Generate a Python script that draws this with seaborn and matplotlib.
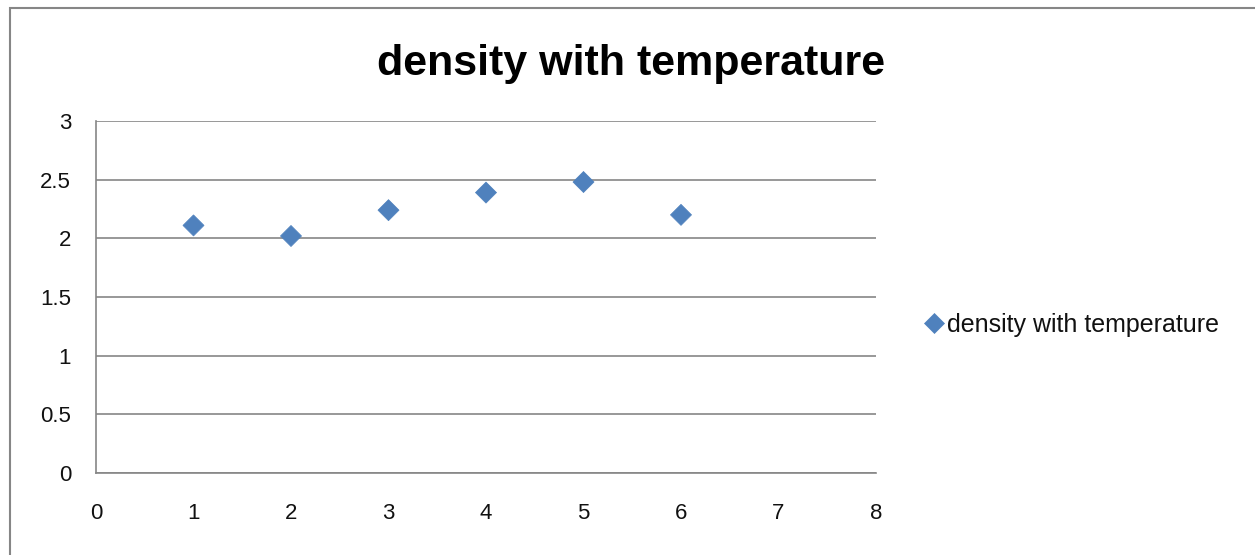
import numpy as np
import pandas as pd
import seaborn as sns
import matplotlib.pyplot as plt
from matplotlib.patches import Rectangle

# values
x_vals = [1, 2, 3, 4, 5, 6]
density = [2.11, 2.02, 2.24, 2.39, 2.48, 2.20]
series_name = "density with temperature"
x_ticks = [0, 1, 2, 3, 4, 5, 6, 7, 8]
y_ticks = [0, 0.5, 1, 1.5, 2, 2.5, 3]
y_tick_labels = ["0", "0.5", "1", "1.5", "2", "2.5", "3"]

df = pd.DataFrame({"x": x_vals, "y": density, "series": series_name})

sns.set_style("white")
plt.rcParams["font.family"] = ["Liberation Sans", "DejaVu Sans"]

fig = plt.figure(figsize=(12.55, 5.55), dpi=100)
ax = fig.add_axes([96 / 1255, 1 - 473 / 555, (876 - 96) / 1255, (473 - 121) / 555])

# chart frame
fig.patches.append(Rectangle((10 / 1255, -0.1), 1.2, 1.1 - 8 / 555,
                             transform=fig.transFigure, fill=False,
                             edgecolor="#868686", linewidth=1.5))

sns.scatterplot(data=df, x="x", y="y", hue="series", palette=["#4F81BD"],
                marker="D", s=115, edgecolor="#4F81BD", linewidth=0.5, ax=ax,
                zorder=3)

ax.set_xlim(0, 8)
ax.set_ylim(0, 3)
ax.set_xticks(x_ticks)
ax.set_yticks(y_ticks)
ax.set_yticklabels(y_tick_labels)
ax.set_xlabel("")
ax.set_ylabel("")
ax.yaxis.grid(True, color="#868686", linewidth=1.2)
ax.set_axisbelow(True)
for side in ["top", "right"]:
    ax.spines[side].set_visible(False)
for side in ["left", "bottom"]:
    ax.spines[side].set_color("#868686")
    ax.spines[side].set_linewidth(1.2)
ax.tick_params(axis="both", direction="out", width=1.2,
               color="#868686", labelsize=16, labelcolor="#111111")
ax.tick_params(axis="y", length=6, pad=12)
ax.tick_params(axis="x", length=6.5, pad=15)

fig.text(631 / 1255, 1 - 75 / 555, "density with temperature",
         ha="center", va="baseline", fontsize=31, fontweight="bold",
         color="black")

leg = ax.legend(loc="center left", bbox_to_anchor=(926 / 1255, 1 - 325 / 555),
                bbox_transform=fig.transFigure, frameon=False, fontsize=18,
                handlelength=0.65, handletextpad=0.2, borderaxespad=0,
                borderpad=0)
for h in leg.legend_handles:
    h.set_markersize(10)
for t in leg.get_texts():
    t.set_color("#111111")

fig.savefig("out.png", dpi=100)
